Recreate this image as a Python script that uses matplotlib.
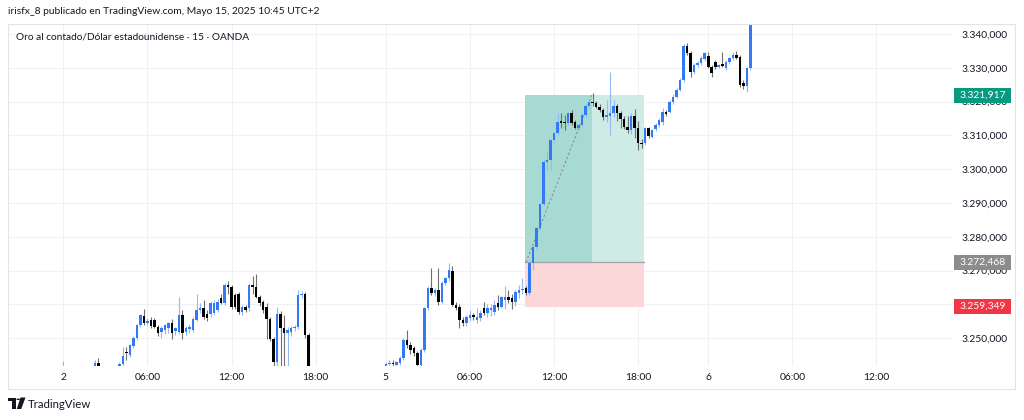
import numpy as np
import matplotlib.pyplot as plt
import matplotlib.transforms as mtransforms
from matplotlib.patches import Rectangle, Polygon, Circle

# -----------------------------
# Data (XAUUSD, 15 min, OANDA) - bar index is the x value
# -----------------------------
opens = [
    3237.5, 3238.6, 3237.0, 3235.6, 3236.8, 3235.3, 3232.4, 3234.9, 3237.4, 3238.9, 3242.6, 3239.6,
    3237.1, 3234.5, 3236.0, 3238.2, 3237.3, 3242.4, 3246.0, 3245.0, 3247.7, 3250.2, 3253.9, 3256.5,
    3254.6, 3255.5, 3255.4, 3253.4, 3251.9, 3252.4, 3252.9, 3254.4, 3252.1, 3251.9, 3256.8, 3251.9,
    3252.8, 3252.4, 3255.5, 3258.3, 3258.8, 3257.3, 3257.3, 3257.5, 3258.3, 3261.8, 3260.3, 3265.7,
    3265.2, 3262.7, 3263.2, 3257.8, 3259.1, 3258.8, 3265.7, 3265.2, 3262.3, 3260.8, 3259.3, 3255.8,
    3249.9, 3243.0, 3257.3, 3252.9, 3251.4, 3251.9, 3252.9, 3253.4, 3262.7, 3263.2, 3250.9, 3236.0,
    3238.4, 3236.9, 3238.5, 3236.2, 3234.0, 3236.9, 3238.8, 3237.2, 3235.1, 3236.6, 3237.9, 3236.3,
    3237.5, 3238.2, 3237.0, 3236.1, 3237.3, 3236.8, 3237.6, 3238.1, 3239.5, 3242.3, 3242.5, 3242.2,
    3242.8, 3244.1, 3249.5, 3248.0, 3247.0, 3245.5, 3242.1, 3246.5, 3258.8, 3264.8, 3263.3, 3264.3,
    3260.8, 3266.2, 3267.7, 3270.0, 3259.8, 3259.3, 3255.4, 3254.4, 3255.9, 3256.9, 3255.4, 3255.9,
    3258.9, 3257.4, 3258.4, 3257.9, 3260.3, 3259.3, 3261.3, 3262.3, 3261.8, 3260.8, 3263.3, 3264.3,
    3264.8, 3263.3, 3272.2, 3277.1, 3282.5, 3289.7, 3302.2, 3302.7, 3308.6, 3310.6, 3314.4, 3314.1,
    3313.6, 3316.5, 3314.1, 3312.1, 3313.1, 3316.0, 3318.7, 3320.0, 3319.6, 3318.5, 3317.5, 3315.5,
    3315.8, 3316.5, 3318.7, 3316.5, 3315.0, 3312.6, 3311.6, 3315.7, 3312.1, 3307.9, 3307.7, 3312.1,
    3309.6, 3311.8, 3313.1, 3314.1, 3317.0, 3317.0, 3320.0, 3321.5, 3323.5, 3326.4, 3336.5, 3334.5,
    3328.9, 3330.8, 3331.3, 3332.5, 3333.5, 3330.3, 3331.8, 3330.3, 3331.1, 3329.8, 3331.8, 3332.8,
    3333.8, 3333.3, 3325.6, 3324.6, 3329.9,
]
highs = [
    3243.2, 3240.2, 3239.5, 3237.9, 3239.1, 3236.6, 3235.7, 3238.2, 3239.8, 3243.6, 3244.2, 3240.8,
    3238.4, 3236.9, 3239.3, 3240.5, 3243.1, 3247.3, 3247.4, 3248.3, 3250.8, 3254.3, 3257.3, 3258.5,
    3255.9, 3256.2, 3255.9, 3254.0, 3253.5, 3254.1, 3254.8, 3255.6, 3253.4, 3262.3, 3258.4, 3253.6,
    3254.2, 3256.3, 3263.2, 3260.4, 3261.3, 3258.3, 3261.0, 3261.2, 3261.6, 3263.2, 3266.2, 3266.9,
    3265.8, 3263.4, 3263.8, 3259.8, 3259.7, 3266.2, 3268.3, 3269.0, 3262.9, 3261.4, 3260.3, 3256.4,
    3250.5, 3259.3, 3258.0, 3257.0, 3253.3, 3253.6, 3254.0, 3264.2, 3264.0, 3263.7, 3251.5, 3240.1,
    3240.9, 3239.2, 3240.6, 3238.3, 3237.7, 3239.9, 3240.7, 3238.6, 3237.4, 3239.0, 3239.6, 3238.1,
    3239.4, 3240.2, 3238.8, 3238.0, 3239.1, 3238.2, 3239.0, 3239.3, 3243.0, 3243.6, 3243.5, 3243.4,
    3244.6, 3250.0, 3252.4, 3249.0, 3247.8, 3246.2, 3247.0, 3259.2, 3265.3, 3270.7, 3265.0, 3270.7,
    3266.8, 3268.2, 3272.2, 3271.5, 3260.6, 3260.0, 3256.3, 3257.0, 3258.2, 3257.5, 3258.8, 3258.4,
    3260.8, 3260.2, 3260.2, 3261.4, 3262.8, 3262.6, 3265.3, 3264.3, 3263.2, 3264.3, 3265.6, 3267.7,
    3265.4, 3273.0, 3277.5, 3282.9, 3290.1, 3302.6, 3305.2, 3309.0, 3311.0, 3316.5, 3316.5, 3316.0,
    3317.0, 3317.5, 3314.6, 3313.6, 3316.5, 3319.2, 3320.5, 3322.4, 3320.2, 3319.4, 3318.0, 3320.5,
    3328.8, 3320.4, 3319.3, 3317.2, 3315.6, 3315.7, 3316.5, 3317.7, 3314.4, 3308.8, 3312.6, 3312.6,
    3312.0, 3313.6, 3315.2, 3318.0, 3317.6, 3320.6, 3322.2, 3324.0, 3326.9, 3337.0, 3337.4, 3335.0,
    3331.3, 3332.1, 3333.4, 3334.8, 3334.6, 3330.8, 3332.4, 3331.2, 3334.8, 3332.4, 3333.2, 3334.8,
    3334.9, 3333.8, 3326.4, 3330.3, 3343.5,
]
lows = [
    3235.0, 3236.1, 3234.8, 3233.0, 3234.9, 3231.2, 3230.5, 3233.6, 3235.9, 3237.8, 3239.0, 3236.2,
    3233.7, 3232.8, 3235.1, 3236.4, 3236.8, 3241.6, 3243.5, 3244.4, 3247.1, 3249.6, 3253.3, 3254.0,
    3254.0, 3253.1, 3253.0, 3250.6, 3250.1, 3251.2, 3251.5, 3249.9, 3251.0, 3251.3, 3249.9, 3250.9,
    3251.4, 3251.8, 3255.0, 3257.6, 3255.7, 3255.1, 3256.3, 3257.0, 3257.9, 3260.0, 3259.8, 3263.1,
    3258.7, 3258.6, 3257.3, 3257.0, 3257.8, 3258.1, 3263.2, 3261.8, 3259.6, 3257.4, 3249.9, 3249.2,
    3240.8, 3241.6, 3240.5, 3241.0, 3240.2, 3250.8, 3252.0, 3252.6, 3261.8, 3250.2, 3234.0, 3233.2,
    3236.0, 3234.1, 3235.8, 3232.9, 3232.1, 3235.5, 3236.4, 3233.8, 3233.0, 3235.2, 3235.7, 3234.4,
    3236.1, 3236.7, 3235.3, 3234.6, 3236.0, 3235.4, 3236.5, 3236.9, 3238.0, 3241.0, 3241.2, 3241.0,
    3242.0, 3243.5, 3247.2, 3245.2, 3244.6, 3240.0, 3240.5, 3246.0, 3258.3, 3262.9, 3262.5, 3259.8,
    3260.2, 3265.6, 3267.0, 3259.5, 3258.2, 3252.9, 3253.6, 3253.5, 3255.2, 3255.4, 3254.6, 3255.2,
    3257.0, 3256.2, 3256.6, 3257.0, 3258.2, 3258.8, 3258.6, 3260.5, 3258.6, 3259.5, 3262.0, 3263.0,
    3262.8, 3262.8, 3270.2, 3276.4, 3282.0, 3289.2, 3299.8, 3299.8, 3308.1, 3310.2, 3312.1, 3311.6,
    3313.1, 3313.1, 3311.8, 3311.6, 3312.6, 3315.5, 3318.2, 3318.6, 3318.0, 3317.0, 3314.6, 3314.0,
    3310.1, 3315.5, 3314.3, 3312.1, 3312.0, 3310.6, 3310.4, 3309.1, 3305.7, 3306.4, 3307.1, 3309.2,
    3309.1, 3311.2, 3312.6, 3313.1, 3315.6, 3316.5, 3319.4, 3321.0, 3323.0, 3325.9, 3333.8, 3327.4,
    3328.3, 3330.2, 3330.9, 3332.0, 3329.9, 3327.3, 3329.5, 3329.8, 3330.2, 3329.3, 3331.0, 3332.3,
    3332.6, 3324.4, 3323.6, 3322.9, 3329.4,
]
closes = [
    3238.6, 3237.0, 3235.6, 3236.8, 3235.3, 3232.4, 3234.9, 3237.4, 3238.9, 3242.6, 3239.6, 3237.1,
    3234.5, 3236.0, 3238.2, 3237.3, 3242.4, 3244.6, 3245.5, 3247.9, 3250.2, 3253.9, 3256.8, 3254.6,
    3255.2, 3253.6, 3253.4, 3251.4, 3252.9, 3253.9, 3254.4, 3251.6, 3252.9, 3256.8, 3251.4, 3252.9,
    3253.3, 3255.8, 3258.3, 3258.8, 3256.3, 3256.1, 3260.3, 3260.3, 3260.8, 3260.3, 3265.7, 3265.2,
    3259.3, 3259.3, 3257.8, 3259.3, 3258.3, 3265.7, 3265.2, 3262.3, 3260.3, 3258.3, 3255.8, 3249.9,
    3243.0, 3257.3, 3252.9, 3251.4, 3252.4, 3252.9, 3253.4, 3262.7, 3263.2, 3250.9, 3236.0, 3238.4,
    3236.9, 3238.5, 3236.2, 3234.0, 3236.9, 3238.8, 3237.2, 3235.1, 3236.6, 3237.9, 3236.3, 3237.5,
    3238.2, 3237.0, 3236.1, 3237.3, 3236.8, 3237.6, 3238.1, 3238.7, 3242.3, 3242.8, 3242.4, 3243.0,
    3244.1, 3249.5, 3248.0, 3246.5, 3245.5, 3242.1, 3246.5, 3258.8, 3264.8, 3263.3, 3264.3, 3260.8,
    3266.2, 3267.7, 3270.2, 3259.8, 3258.8, 3255.4, 3254.4, 3256.4, 3256.9, 3256.3, 3256.4, 3257.4,
    3257.4, 3258.9, 3258.9, 3259.8, 3259.3, 3262.3, 3262.3, 3261.3, 3260.8, 3263.8, 3264.3, 3264.5,
    3263.3, 3272.2, 3277.1, 3282.5, 3289.7, 3302.2, 3302.7, 3308.6, 3310.6, 3314.1, 3313.8, 3313.6,
    3316.5, 3313.6, 3312.1, 3313.1, 3316.0, 3318.7, 3320.0, 3319.6, 3318.5, 3317.5, 3315.5, 3316.0,
    3316.5, 3318.7, 3316.5, 3315.0, 3312.6, 3311.6, 3315.6, 3312.1, 3307.7, 3307.5, 3312.1, 3309.8,
    3311.6, 3313.1, 3314.6, 3317.0, 3316.3, 3320.0, 3321.5, 3323.5, 3326.4, 3336.5, 3334.5, 3328.9,
    3330.8, 3331.5, 3332.8, 3334.3, 3330.3, 3328.4, 3330.3, 3330.8, 3330.6, 3331.8, 3332.8, 3333.8,
    3332.8, 3324.9, 3324.5, 3329.9, 3343.2,
]

# time axis labels (bar index -> label)
tick_bars = [0, 24, 48, 72, 92, 116, 140, 164, 184, 208, 232]
tick_labels = ["2", "06:00", "12:00", "18:00", "5", "06:00", "12:00", "18:00", "6", "06:00", "12:00"]
price_ticks = [3250, 3260, 3270, 3280, 3290, 3300, 3310, 3320, 3330, 3340]
# 3.260,000 sits fully under the red stop label in the reference, so it shows no text
price_tick_labels = ["3.250,000", "", "3.270,000", "3.280,000", "3.290,000", "3.300,000",
                     "3.310,000", "3.320,000", "3.330,000", "3.340,000"]

# long position tool
entry_price = 3272.468
target_price = 3321.917
stop_price = 3259.349
position_start, position_end = 131.7, 165.7
target_hit_bar = 150.8

title = "irisfx_8 publicado en TradingView.com, Mayo 15, 2025 10:45 UTC+2"
symbol = "Oro al contado/Dólar estadounidense · 15 · OANDA"

# -----------------------------
# Style
# -----------------------------
plt.rcParams['font.family'] = ['Lato', 'DejaVu Sans']
txt_color = "#131722"
up_color, up_wick = "#3179f5", "#93b8f7"
dn_color, dn_wick = "#000000", "#707070"
grid_color = "#f0f1f4"

W, H = 1024, 420
fig = plt.figure(figsize=(W / 100, H / 100), dpi=100)
fig.patch.set_facecolor("white")

def fx(px):
    return px / W

def fy(py):
    return 1 - py / H

def eu_fmt(v):
    # 3340.0 -> "3.340,000"
    return f"{v:,.3f}".replace(",", "X").replace(".", ",").replace("X", ".")

# chart frame
fig.add_artist(Rectangle((fx(8), fy(389)), fx(1015 - 8), (389 - 24) / H,
                         transform=fig.transFigure, fill=False,
                         edgecolor="#e0e3eb", lw=0.8))

ax = fig.add_axes([fx(8), fy(366), fx(953 - 8), (366 - 24) / H])
ax.set_xlim(-15.78, 253.83)
ax.set_ylim(3241.78, 3342.96)

# -----------------------------
# Long position drawing (under the candles)
# -----------------------------
pw = position_end - position_start
ax.add_patch(Rectangle((position_start, entry_price), pw, target_price - entry_price,
                       facecolor="#ceebe6", edgecolor="none", zorder=1))
ax.add_patch(Rectangle((position_start, entry_price), target_hit_bar - position_start,
                       target_price - entry_price,
                       facecolor="#a6dad2", edgecolor="none", zorder=1.1))
ax.add_patch(Rectangle((position_start, stop_price), pw, entry_price - stop_price,
                       facecolor="#fcd7da", edgecolor="none", zorder=1))
ax.plot([position_start, position_end], [entry_price, entry_price], color="#a3a0a0", lw=0.9, zorder=1.2)
ax.plot([position_start + 0.3, target_hit_bar], [entry_price, target_price],
        color="#8a8d96", lw=0.8, ls=(0, (2, 2)), zorder=1.2)

# -----------------------------
# Candles
# -----------------------------
idx = np.arange(len(opens))
o, h, l, c = map(np.array, (opens, highs, lows, closes))
up = c >= o
body_lo = np.minimum(o, c)
body_h = np.maximum(np.abs(c - o), 0.3)

ax.vlines(idx[up], l[up], h[up], color=up_wick, lw=0.8, zorder=2)
ax.vlines(idx[~up], l[~up], h[~up], color=dn_wick, lw=0.8, zorder=2)
ax.bar(idx[up], body_h[up], bottom=body_lo[up], width=0.72, color=up_color, linewidth=0, zorder=3)
ax.bar(idx[~up], body_h[~up], bottom=body_lo[~up], width=0.72, color=dn_color, linewidth=0, zorder=3)

# -----------------------------
# Axes / grid
# -----------------------------
for s in ax.spines.values():
    s.set_visible(False)
ax.set_xticks(tick_bars)
ax.set_xticklabels(tick_labels)
ax.set_yticks(price_ticks)
ax.yaxis.tick_right()
ax.set_yticklabels(price_tick_labels)
ax.tick_params(axis="y", length=0, pad=39.5, labelsize=7.4, labelcolor=txt_color)
ax.tick_params(axis="x", length=0, pad=5, labelsize=7.4, labelcolor=txt_color)
for lab in ax.get_yticklabels():
    lab.set_ha("right")
ax.grid(True, color=grid_color, lw=0.8, zorder=0)
ax.set_axisbelow(True)

# price labels on the scale
blend = mtransforms.blended_transform_factory(fig.transFigure, ax.transData)
for price, col in [(target_price, "#089981"), (entry_price, "#8c8c8c"), (stop_price, "#f23645")]:
    fig.add_artist(Rectangle((fx(954), price - 2.25), fx(57), 4.5, transform=blend,
                             facecolor=col, edgecolor="none", zorder=10))
    fig.text(fx(954 + 28.5), price, eu_fmt(price), transform=blend, ha="center", va="center",
             color="white", fontsize=7.4, zorder=11)

# -----------------------------
# Header / footer texts
# -----------------------------
fig.text(fx(8), fy(12), title, ha="left", va="center", fontsize=7.4, color=txt_color)
fig.text(fx(16), fy(37), symbol, ha="left", va="center", fontsize=7.3, color=txt_color)

# TradingView logo
logo_T = [(8, 397.5), (15.5, 397.5), (15.5, 409), (11.8, 409), (11.8, 401), (8, 401)]
fig.add_artist(Polygon([(fx(a), fy(b)) for a, b in logo_T], closed=True,
                       transform=fig.transFigure, facecolor="#131722", edgecolor="none"))
logo_V = [(20.5, 397.5), (25.5, 397.5), (21.2, 409), (16.8, 409)]
fig.add_artist(Polygon([(fx(a), fy(b)) for a, b in logo_V], closed=True,
                       transform=fig.transFigure, facecolor="#131722", edgecolor="none"))
fig.add_artist(Circle((fx(18.2), fy(399.3)), 1.8 / W, transform=fig.transFigure,
                      facecolor="#131722", edgecolor="none"))
fig.text(fx(28), fy(404), "TradingView", ha="left", va="center", fontsize=8.2, color=txt_color)

plt.savefig("out.png", dpi=100)
